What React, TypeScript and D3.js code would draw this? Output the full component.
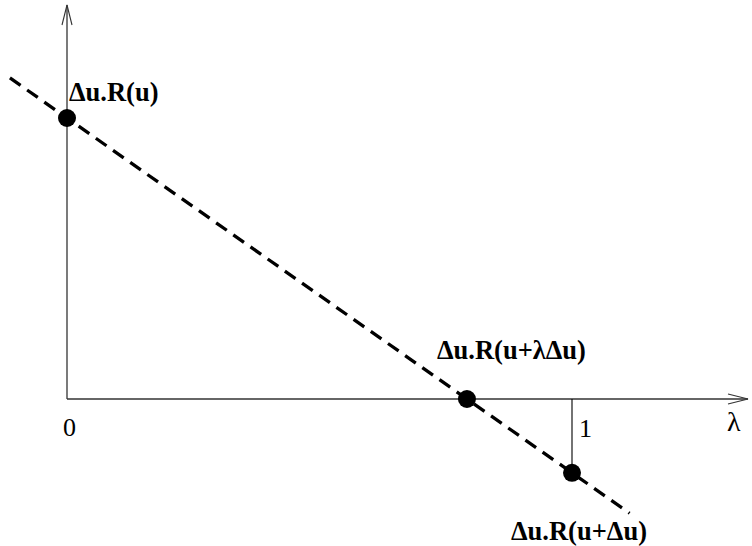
import React from "react";
import * as d3 from "d3";

const lambdaRange = [-0.113, 1.114];
const lineSlope = [1, -1.2626];
const points = [
  { lam: 0, val: 1 },
  { lam: 0.792, val: 0 },
  { lam: 1, val: -0.2626 },
];
const pointLabels = ["Δu.R(u)", "Δu.R(u+λΔu)", "Δu.R(u+Δu)"];
const tickLabels = ["0", "1"];

export default function App() {
  const W = 752, H = 546;
  const x = d3.scaleLinear().domain([0, 1]).range([67, 572]);
  const y = d3.scaleLinear().domain([0, 1]).range([399, 118]);
  const f = (l: number) => lineSlope[0] + lineSlope[1] * l;
  const line = d3.line<number>().x((d) => x(d)).y((d) => y(f(d)));
  const axisColor = "#333";
  const font = "'Liberation Serif', 'Times New Roman', serif";
  const labelPos = [
    { x: x(0) + 2, y: 101 },
    { x: x(0.792) - 30, y: 359 },
    { x: x(1) - 61, y: 540 },
  ];
  return (
    <svg width={W} height={H} style={{ position: "absolute", left: 0, top: 0 }}>
      <rect width={W} height={H} fill="#fff" />
      <line x1={x(0)} y1={y(0)} x2={x(0)} y2={5} stroke={axisColor} strokeWidth={1.3} />
      <polyline points={`${x(0) - 5},25 ${x(0)},5 ${x(0) + 5},25`} fill="none" stroke={axisColor} strokeWidth={1.1} />
      <line x1={x(0)} y1={y(0)} x2={748} y2={y(0)} stroke={axisColor} strokeWidth={1.3} />
      <polyline points={`${728},${y(0) - 5} ${748},${y(0)} ${728},${y(0) + 5}`} fill="none" stroke={axisColor} strokeWidth={1.1} />
      <line x1={x(1)} y1={y(0)} x2={x(1)} y2={y(f(1))} stroke="#000" strokeWidth={1.1} />
      <path d={line(lambdaRange) || ""} fill="none" stroke="#000" strokeWidth={3.3} strokeDasharray="13,8" />
      {points.map((p, i) => (
        <circle key={i} cx={x(p.lam)} cy={y(p.val)} r={9} fill="#000" />
      ))}
      {pointLabels.map((t, i) => (
        <text key={i} x={labelPos[i].x} y={labelPos[i].y} fontFamily={font} fontWeight="bold" fontSize={26.5}>
          {t}
        </text>
      ))}
      <text x={x(0) - 4} y={436} fontFamily={font} fontSize={26}>{tickLabels[0]}</text>
      <text x={x(1) + 7} y={437} fontFamily={font} fontSize={26}>{tickLabels[1]}</text>
      <text x={727} y={431} fontFamily={font} fontSize={28}>λ</text>
    </svg>
  );
}
